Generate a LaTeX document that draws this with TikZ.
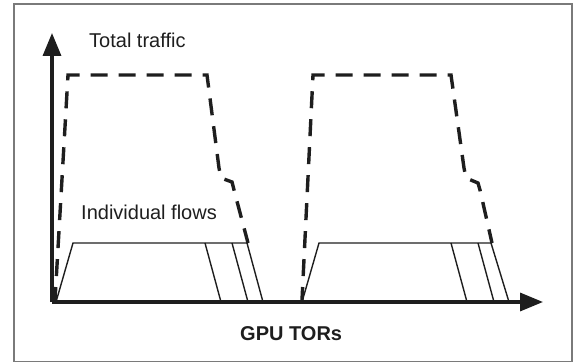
\documentclass[tikz,border=0pt]{standalone}
\usepackage{fontspec}
\setmainfont{Liberation Sans}
\usetikzlibrary{arrows.meta}
\definecolor{ink}{HTML}{1E1E1E}
\definecolor{framegray}{HTML}{7A7A7A}
\tikzset{
  axisline/.style={ink, line width=3.4pt, -{Triangle[length=23pt,width=18pt]}},
  totalcurve/.style={ink, line width=3.4pt, dash pattern=on 17pt off 11pt, line join=miter},
  flowline/.style={ink, line width=1.4pt},
  label/.style={inner sep=0pt, text=ink, font=\fontsize{20}{24}\selectfont},
}
\begin{document}
\begin{tikzpicture}[x=1pt, y=-1pt]
  \useasboundingbox (0,0) rectangle (578,363);
  % outer frame
  \draw[framegray, line width=1.6pt] (14,4) rectangle (572,361.5);

  % axes
  \coordinate (origin) at (52,302);
  \coordinate (ytip) at (52,33);
  \coordinate (xtip) at (543,302);
  \draw[axisline] (origin) -- (ytip);
  \draw[axisline] (origin) -- (xtip);

  % labels
  \node[label, anchor=base west] (total) at (89,48) {Total traffic};
  \node[label, anchor=base west] (indiv) at (81,220) {Individual flows};
  \node[label, anchor=base west, font=\fontsize{20}{24}\selectfont\bfseries] (axisname) at (240,340) {GPU TORs};

  % first burst: total traffic envelope
  \draw[totalcurve, dash phase=4pt] (55,300) -- (68,75) -- (207,75) -- (219,168) -- (221,178)
       -- (232,182) -- (234,190) -- (248,243);
  % first burst: individual flows
  \draw[flowline] (56,302) -- (73,243) -- (248,243);
  \draw[flowline] (205,243) -- (221,302);
  \draw[flowline] (232,243) -- (248,302);
  \draw[flowline] (247,243) -- (263,302);

  % second burst: total traffic envelope
  \draw[totalcurve, dash phase=4pt] (302,300) -- (313,75) -- (451,75) -- (464,168) -- (466,178)
       -- (478,183) -- (480,190) -- (492,243);
  % second burst: individual flows
  \draw[flowline] (302,302) -- (319,243) -- (492,243);
  \draw[flowline] (451,243) -- (467,302);
  \draw[flowline] (478,243) -- (494,302);
  \draw[flowline] (491,243) -- (509,302);
\end{tikzpicture}
\end{document}
